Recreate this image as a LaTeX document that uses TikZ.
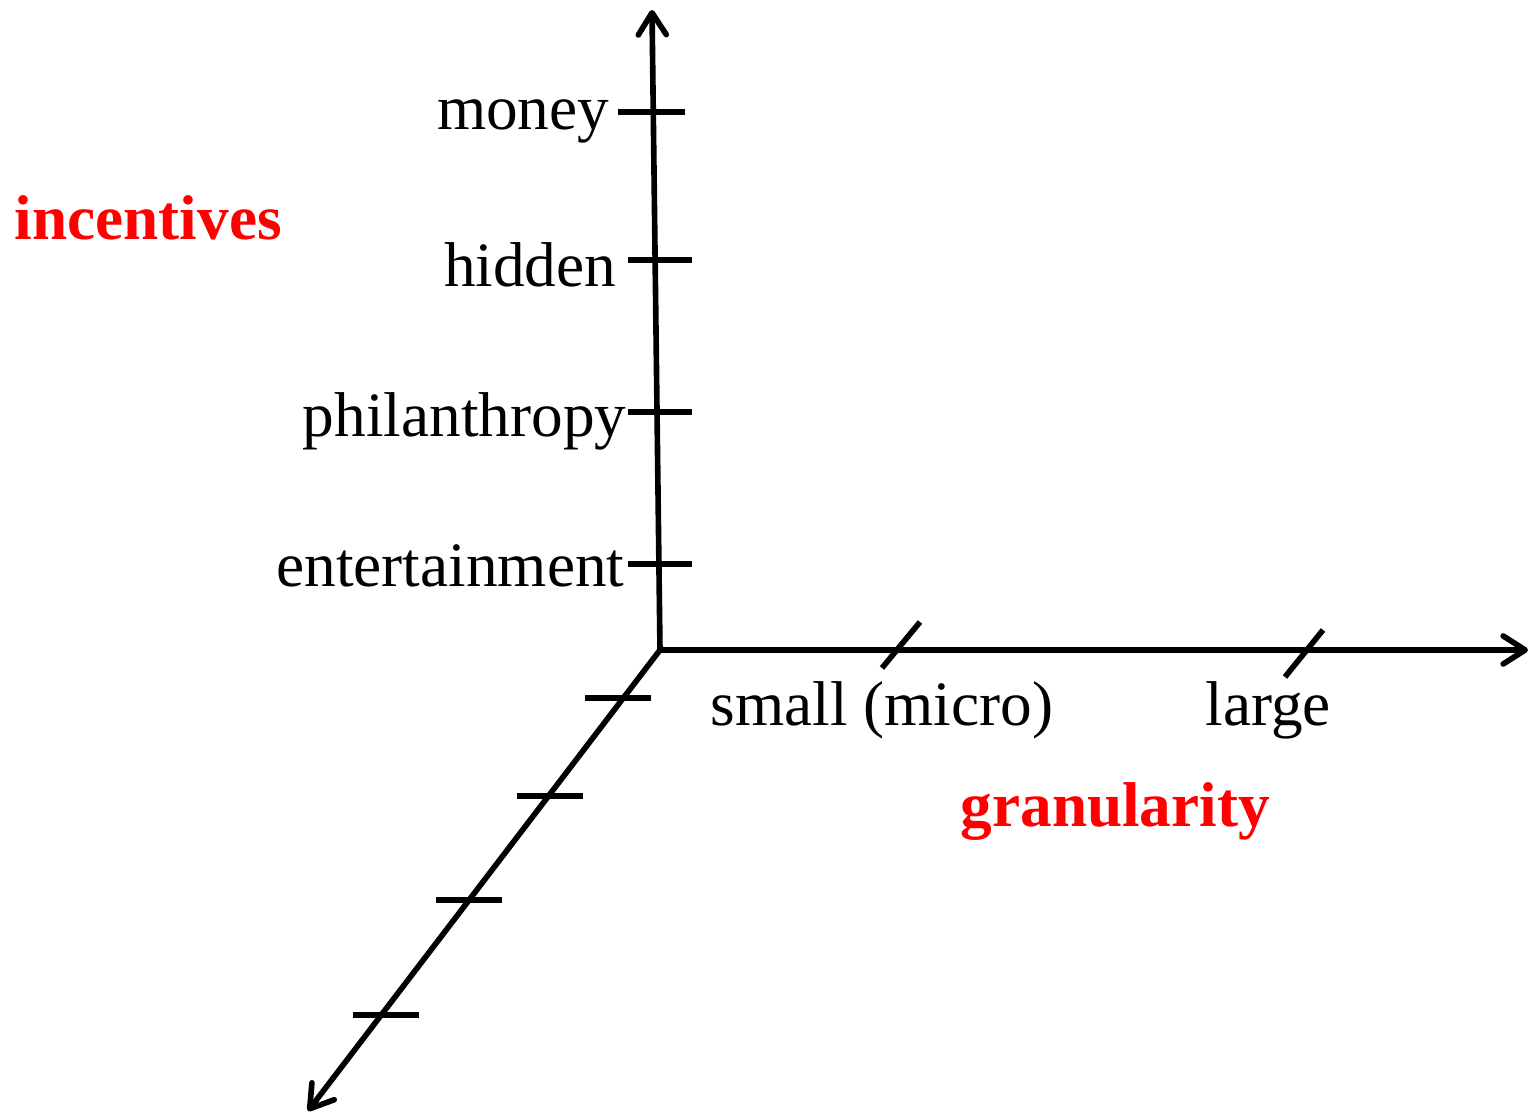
\documentclass[tikz,border=0pt]{standalone}
\usepackage{fontspec}
\setmainfont{Liberation Serif}
\usepackage{xcolor}
\usepackage{tikz}
\usetikzlibrary{arrows.meta,calc}
\definecolor{hot}{HTML}{FF0000}
\tikzset{
  >={Straight Barb[length=2.2mm,width=2.8mm,round]},
  every node/.style={font=\fontsize{18}{22}\selectfont,inner sep=0pt},
  axis/.style={line width=1.6pt,line cap=round},
  tick/.style={line width=1.6pt},
  dimlab/.style={text=hot,font=\fontsize{18}{22}\selectfont\bfseries},
}
\begin{document}
\begin{tikzpicture}
  \useasboundingbox (-6.60,-4.68) rectangle (8.72,6.50);
  \coordinate (O) at (0,0);
  \coordinate (Y) at (-0.08,6.40);
  \coordinate (X) at (8.68,0);
  \coordinate (Z) at (-3.52,-4.61);
  \draw[axis,->] (O) -- (Y);
  \draw[axis,->] (O) -- (X);
  \draw[axis,->] (O) -- (Z);
  % incentive ticks
  \foreach \y/\a/\b in {5.38/-0.42/0.25,3.90/-0.32/0.32,2.38/-0.32/0.32,0.86/-0.32/0.32}
    \draw[tick] (\a,\y) -- (\b,\y);
  \node[anchor=base east] (mon) at (-0.50,5.20) {money};
  \node[anchor=base east] (hid) at (-0.43,3.63) {hidden};
  \node[anchor=base east] (phi) at (-0.33,2.13) {philanthropy};
  \node[anchor=base east] (ent) at (-0.35,0.63) {entertainment};
  % granularity ticks
  \draw[tick] (2.22,-0.18) -- (2.60,0.28);
  \draw[tick] (6.25,-0.27) -- (6.63,0.20);
  \node[anchor=base west] (sml) at (0.50,-0.76) {small (micro)};
  \node[anchor=base west] (lrg) at (5.45,-0.76) {large};
  % third axis ticks
  \foreach \y/\a/\b in {-0.48/-0.75/-0.09,-1.46/-1.43/-0.77,-2.50/-2.24/-1.58,-3.65/-3.07/-2.41}
    \draw[tick] (\a,\y) -- (\b,\y);
  \node[dimlab,anchor=base west] (inc) at (-6.46,4.10) {incentives};
  \node[dimlab,anchor=base west] (gra) at (3.00,-1.77) {granularity};
\end{tikzpicture}
\end{document}
